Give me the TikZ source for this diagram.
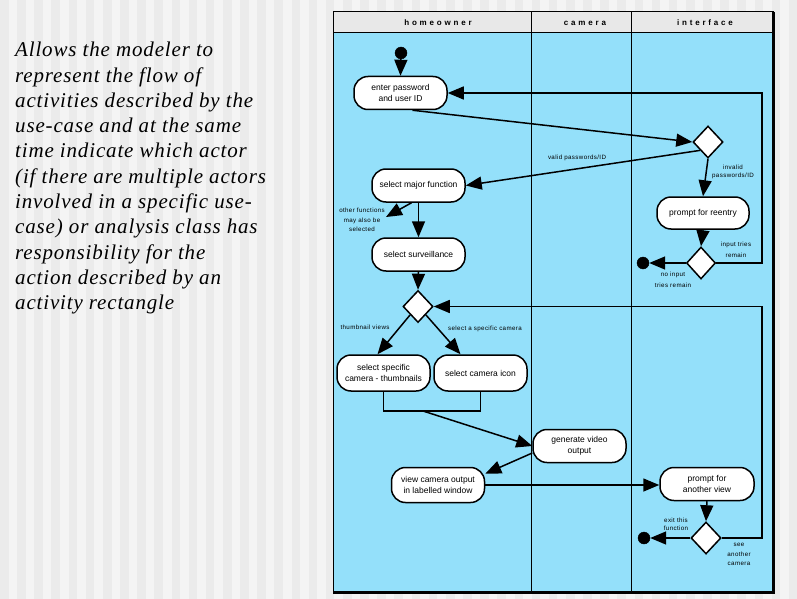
\documentclass[tikz,border=0pt]{standalone}
\usepackage{fontspec}
\setsansfont{Liberation Sans}
\usetikzlibrary{arrows.meta, positioning, shapes.geometric}

\definecolor{lanefill}{RGB}{148,224,250}
\definecolor{stripedark}{RGB}{235,235,235}
\definecolor{stripelight}{RGB}{244,244,244}
\definecolor{headfill}{RGB}{232,232,232}

\newfontfamily\notefont{Liberation Sans}[LetterSpace=6]
\newfontfamily\headfont{Liberation Sans}[LetterSpace=35]
\newfontfamily\blurbfont{Liberation Serif}[LetterSpace=4]

\tikzset{
  activity/.style={rectangle, draw, line width=1.5pt, fill=white, rounded corners=14pt,
    minimum width=93pt, minimum height=33pt, align=center, inner sep=2pt,
    font=\sffamily\fontsize{8.5}{11.5}\selectfont},
  decision/.style={diamond, draw, line width=1.5pt, fill=white, minimum width=30pt,
    minimum height=32pt, inner sep=0pt},
  flow/.style={-{Triangle[length=16pt,width=13pt]}, line width=1.5pt},
  link/.style={line width=1.5pt},
  note/.style={align=center, inner sep=0pt, font=\notefont\fontsize{6.2}{9.5}\selectfont},
  enddot/.style={circle, fill=black, draw=black, minimum size=12pt, inner sep=0pt},
  lanehead/.style={font=\headfont\bfseries\fontsize{8}{9}\selectfont, inner sep=0pt},
}

\begin{document}
\begin{tikzpicture}[x=1pt, y=-1pt]
    % Page background with stripes
    \useasboundingbox (0,0) rectangle (797,599);
    \fill[stripelight] (0,0) rectangle (797,599);
    \foreach \i in {0,...,46} {
        \fill[stripedark] (\i*17.15,0) rectangle ++(8.6,599);
    }

    % Left text
    \node[anchor=north west, align=left, inner sep=0pt,
          font=\blurbfont\itshape\fontsize{21}{25.3}\selectfont] (blurb) at (15,42) {%
        Allows the modeler to\\
        represent the flow of\\
        activities described by the\\
        use-case and at the same\\
        time indicate which actor\\
        (if there are multiple actors\\
        involved in a specific use-\\
        case) or analysis class has\\
        responsibility for the\\
        action described by an\\
        activity rectangle};

    % Swimlanes
    \fill[headfill] (333,12) rectangle (773,33);
    \fill[lanefill] (333,33) rectangle (773,591);
    \draw[line width=1pt] (333,12) rectangle (773,591);
    \draw[line width=1pt] (333,33) -- (773,33);
    \draw[line width=1pt] (531,12) -- (531,591);
    \draw[line width=1pt] (631,12) -- (631,591);
    \draw[line width=3pt] (773.2,12) -- (773.2,592.3) -- (333,592.3);

    \node[lanehead] (hdowner) at (438,23) {homeowner};
    \node[lanehead] (hdcamera) at (585,23) {camera};
    \node[lanehead] (hdiface) at (705,23) {interface};

    % Activities
    \node[activity] (enter) at (400.5,93) {enter password\\and user ID};
    \node[activity] (major) at (418.5,185.5) {select major function};
    \node[activity] (surveil) at (418.5,254.5) {select surveillance};
    \node[activity, minimum height=36pt] (thumb) at (383.5,373) {select specific\\camera - thumbnails};
    \node[activity, minimum height=36pt] (camicon) at (480.5,373) {select camera icon};
    \node[activity] (genvid) at (579.5,446) {generate video\\output};
    \node[activity, minimum height=35pt] (view) at (438,485) {view camera output\\in labelled window};
    \node[activity, minimum width=92pt, minimum height=32pt] (reentry) at (703,213) {prompt for reentry};
    \node[activity, minimum width=94pt] (another) at (707,484) {prompt for\\another view};

    % Decisions, start and ends
    \node[decision] (dec1) at (708,142) {};
    \node[decision, minimum width=29pt] (dec2) at (701,263) {};
    \node[decision] (dec3) at (418,306.5) {};
    \node[decision] (dec4) at (706,538) {};
    \node[enddot] (start) at (401,53) {};
    \node[enddot] (end1) at (643,263) {};
    \node[enddot] (end2) at (644,538) {};

    % Helper points
    \coordinate (loopright) at (762,0);
    \coordinate (othertip) at (386,217);
    \coordinate (merge) at (423,411);

    % Flows
    \draw[flow] (start.center) -- (enter.north);
    \draw[flow] ([xshift=12pt]enter.south) -- (dec1.west);
    \draw[flow] (dec1.south west) -- (major.east);
    \draw[flow] (dec1.south) -- (reentry.north);
    \draw[flow] (reentry.south) -- (dec2.north);
    \draw[flow] (dec2.west) -- (end1);
    \draw[flow] (dec2.east) -- (dec2.east -| loopright) |- (enter.east);
    \draw[flow] ([xshift=-7pt]major.south) -- (othertip);
    \draw[flow] (major.south) -- (surveil.north);
    \draw[flow] (surveil.south) -- (dec3.north);
    \draw[flow] (dec3.south west) -- ([xshift=-6pt]thumb.north);
    \draw[flow] (dec3.south east) -- ([xshift=-20pt]camicon.north);
    \draw[link] (thumb.south) |- (merge) -| (camicon.south);
    \draw[flow] (merge) -- (genvid.west);
    \draw[flow] ([yshift=-7pt]genvid.west) -- ([yshift=-7pt]view.north east);
    \draw[flow] (view.east) -- (view.east -| another.west);
    \draw[flow] (another.south) -- (dec4.north);
    \draw[flow] (dec4.west) -- (end2);
    \draw[flow] (dec4.east) -- (dec4.east -| loopright) |- (dec3.east);

    % Guard labels
    \node[note] (validlbl) at (577,158) {valid passwords/ID};
    \node[note, font=\notefont\fontsize{6.2}{8}\selectfont] (invalidlbl) at (733,172) {invalid\\passwords/ID};
    \node[note, font=\notefont\fontsize{6.2}{11}\selectfont] (triesleftlbl) at (736,249.5) {input tries\\remain};
    \node[note, font=\notefont\fontsize{6.2}{11}\selectfont] (notrieslbl) at (673,279.5) {no input\\tries remain};
    \node[note] (otherlbl) at (362,220) {other functions\\may also be\\selected};
    \node[note] (thumblbl) at (365,327) {thumbnail views};
    \node[note] (specificlbl) at (485,329) {select a specific camera};
    \node[note, font=\notefont\fontsize{6.2}{7.5}\selectfont] (exitlbl) at (676,524.5) {exit this\\function};
    \node[note] (anotherlbl) at (739,554.5) {see\\another\\camera};
\end{tikzpicture}
\end{document}
